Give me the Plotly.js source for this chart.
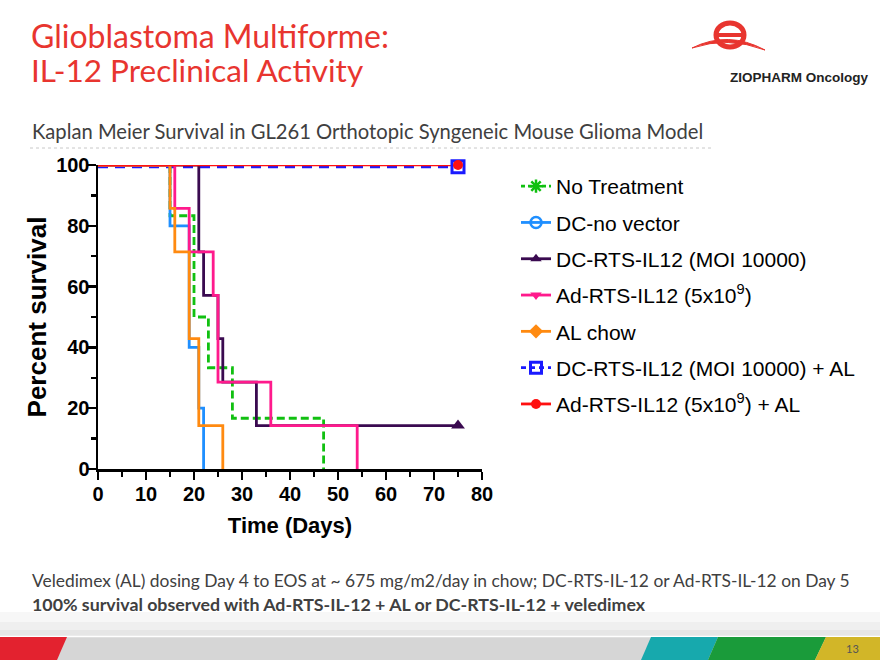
<!DOCTYPE html>
<html>
<head>
<meta charset="utf-8">
<script src="https://cdn.plot.ly/plotly-3.0.1.min.js"></script>
<style>html,body{margin:0;padding:0;background:#fff;}#chart{width:880px;height:660px;}</style>
</head>
<body>
<div id="chart"></div>
<script>
// ---- data ----
const seriesNames = [
  'No Treatment',
  'DC-no vector',
  'DC-RTS-IL12 (MOI 10000)',
  'Ad-RTS-IL12 (5x10<sup>9</sup>)',
  'AL chow',
  'DC-RTS-IL12 (MOI 10000) + AL',
  'Ad-RTS-IL12 (5x10<sup>9</sup>) + AL'
];
const noTreatDays = [0, 15, 20, 23, 28, 47];
const noTreatSurv = [100, 83.3, 50, 33.3, 16.7, 0];
const dcNoVecDays = [0, 15, 19, 21, 22];
const dcNoVecSurv = [100, 80, 40, 20, 0];
const dcRtsDays = [0, 21, 22, 25, 26, 33, 75];
const dcRtsSurv = [100, 71.4, 57.1, 42.9, 28.6, 14.3, 14.3];
const adRtsDays = [0, 16, 19, 24, 25, 36, 54];
const adRtsSurv = [100, 85.7, 71.4, 57.1, 28.6, 14.3, 0];
const alChowDays = [0, 15, 16, 19, 21, 26];
const alChowSurv = [100, 85.7, 71.4, 42.9, 14.3, 0];
const dcRtsAlDays = [0, 75];
const dcRtsAlSurv = [99.4, 99.4];
const adRtsAlDays = [0, 75];
const adRtsAlSurv = [100, 100];
const xTicks = [0, 10, 20, 30, 40, 50, 60, 70, 80];
const yTicks = [0, 20, 40, 60, 80, 100];

// ---- styling ----
const GREEN = '#11c011', BLUE = '#1f8fff', PURPLE = '#3a0a50', PINK = '#ff1a8c',
      ORANGE = '#ff8a10', DBLUE = '#1a1aff', RED = '#ff1010';
const NARROW = '"Liberation Sans Narrow", "Arial Narrow", "Liberation Sans", Arial, sans-serif';
const SANS = '"Liberation Sans", Arial, sans-serif';
const CAL = 'Lato, "Open Sans", sans-serif';

// plot area in pixels: x 98..482, y 165..469
const L = 98, R = 482, T = 165, B = 469;
const PX = x => (x - L) / (R - L);
const PY = y => (B - y) / (B - T);

function curve(x, y, color, dash, width) {
  return {x, y, type: 'scatter', mode: 'lines', showlegend: false, hoverinfo: 'skip',
          cliponaxis: false, line: {shape: 'hv', color, width: width || 2.8, dash: dash || 'solid'}};
}
function censor(x, y, marker) {
  return {x: [x[x.length - 1]], y: [y[y.length - 1]], type: 'scatter', mode: 'markers',
          showlegend: false, hoverinfo: 'skip', cliponaxis: false, marker};
}
function legendItem(i, color, dash, marker) {
  return {x: [null], y: [null], type: 'scatter', mode: 'lines+markers', name: seriesNames[i],
          legendgroup: 'g' + i,
          line: {color, width: 2.8, dash: dash || 'solid'}, marker};
}

const traces = [
  curve(dcRtsAlDays, dcRtsAlSurv, DBLUE, '10px,7px', 3),
  curve(noTreatDays, noTreatSurv, GREEN, '8px,4px'),
  curve(dcNoVecDays, dcNoVecSurv, BLUE),
  curve(dcRtsDays, dcRtsSurv, PURPLE),
  curve(adRtsDays, adRtsSurv, PINK),
  curve(alChowDays, alChowSurv, ORANGE),
  curve(adRtsAlDays, adRtsAlSurv, RED, 'solid', 2.4),
  censor(dcRtsDays, dcRtsSurv, {symbol: 'triangle-up', size: 12, color: PURPLE}),
  censor(dcRtsAlDays, dcRtsAlSurv, {symbol: 'square-open', size: 12, color: DBLUE, line: {width: 3, color: DBLUE}}),
  censor(adRtsAlDays, adRtsAlSurv, {symbol: 'circle', size: 10, color: RED}),
  legendItem(0, GREEN, '4px,3px', {symbol: 'asterisk-open', size: 11, color: GREEN, line: {width: 2.5, color: GREEN}}),
  legendItem(1, BLUE, 'solid', {symbol: 'circle-open', size: 11, color: BLUE, line: {width: 2.5, color: BLUE}}),
  legendItem(2, PURPLE, 'solid', {symbol: 'triangle-up', size: 10, color: PURPLE}),
  legendItem(3, PINK, 'solid', {symbol: 'triangle-down', size: 10, color: PINK}),
  legendItem(4, ORANGE, 'solid', {symbol: 'diamond', size: 11, color: ORANGE}),
  legendItem(5, DBLUE, '5px,4px', {symbol: 'square-open', size: 11, color: DBLUE, line: {width: 3, color: DBLUE}}),
  legendItem(6, RED, 'solid', {symbol: 'circle', size: 10, color: RED})
];

function pathFromPx(pts, close) {
  return pts.map((p, i) => (i ? 'L' : 'M') + PX(p[0]).toFixed(4) + ',' + PY(p[1]).toFixed(4)).join(' ') + (close ? ' Z' : '');
}
function rectPx(x0, y0, x1, y1, fill, layer) {
  return {type: 'rect', xref: 'paper', yref: 'paper', x0: PX(x0), x1: PX(x1), y0: PY(y0), y1: PY(y1),
          fillcolor: fill, line: {width: 0}, layer: layer || 'below'};
}

const shapes = [
  // bottom soft grey gradient
  rectPx(0, 612, 880, 636, '#f7f7f7'),
  rectPx(0, 622, 880, 636, '#efefef'),
  rectPx(0, 630, 880, 636, '#e6e6e6'),
  // footer band
  rectPx(0, 636, 880, 660, '#d6d6d6'),
  {type: 'line', xref: 'paper', yref: 'paper', x0: PX(0), x1: PX(880), y0: PY(636.5), y1: PY(636.5), line: {color: '#ffffff', width: 1.5}, layer: 'below'},
  {type: 'path', xref: 'paper', yref: 'paper', path: pathFromPx([[0, 637], [67, 637], [57, 660], [0, 660]], true), fillcolor: '#e3222f', line: {width: 0}, layer: 'below'},
  {type: 'path', xref: 'paper', yref: 'paper', path: pathFromPx([[651, 637], [718, 637], [708, 660], [641, 660]], true), fillcolor: '#17a9ad', line: {width: 0}, layer: 'below'},
  {type: 'path', xref: 'paper', yref: 'paper', path: pathFromPx([[718, 637], [826, 637], [815, 660], [708, 660]], true), fillcolor: '#1a9b3a', line: {width: 0}, layer: 'below'},
  {type: 'path', xref: 'paper', yref: 'paper', path: pathFromPx([[826, 637], [880, 637], [880, 660], [815, 660]], true), fillcolor: '#d2b628', line: {width: 0}, layer: 'below'},
  // subtitle rule
  {type: 'line', xref: 'paper', yref: 'paper', x0: PX(30), x1: PX(712), y0: PY(148), y1: PY(148), line: {color: '#c8c8c8', width: 1, dash: 'dot'}, layer: 'below'},
  // logo ring + bar + swoosh
  {type: 'circle', xref: 'paper', yref: 'paper', x0: PX(716), x1: PX(744), y0: PY(47), y1: PY(23), line: {color: '#e8352f', width: 5}, fillcolor: 'rgba(0,0,0,0)', layer: 'below'},
  {type: 'line', xref: 'paper', yref: 'paper', x0: PX(718), x1: PX(742), y0: PY(35), y1: PY(35), line: {color: '#e8352f', width: 4}, layer: 'below'},
  {type: 'path', xref: 'paper', yref: 'paper',
   path: 'M' + PX(692) + ',' + PY(48) + ' Q' + PX(728) + ',' + PY(30) + ' ' + PX(765) + ',' + PY(50) +
         ' Q' + PX(728) + ',' + PY(36) + ' ' + PX(692) + ',' + PY(48) + ' Z',
   fillcolor: '#e8352f', line: {color: '#e8352f', width: 1}, layer: 'below'}
];

function ann(text, x, y, size, color, family, opts) {
  return Object.assign({text, xref: 'paper', yref: 'paper', x: PX(x), y: PY(y), xanchor: 'left', yanchor: 'middle',
          showarrow: false, font: {size, color, family}}, opts || {});
}

const annotations = [
  ann('Glioblastoma Multiforme:', 29, 36, 32, '#e8352f', CAL),
  ann('IL-12 Preclinical Activity', 29, 70, 31.5, '#e8352f', CAL),
  ann('Kaplan Meier Survival in GL261 Orthotopic Syngeneic Mouse Glioma Model', 30, 131, 20.2, '#404040', CAL),
  ann('Veledimex (AL) dosing Day 4 to EOS at ~ 675 mg/m2/day in chow; DC-RTS-IL-12 or Ad-RTS-IL-12 on Day 5', 30, 580, 17.4, '#404040', CAL),
  ann('<b>100% survival observed with Ad-RTS-IL-12 + AL or DC-RTS-IL-12 + veledimex</b>', 30, 604, 17.8, '#404040', CAL),
  ann('<b>ZIOPHARM Oncology</b>', 728, 77, 13.5, '#222', SANS),
  ann('13', 852, 648, 11, '#555', CAL, {xanchor: 'center'})
];

const axisCommon = {
  showgrid: false, zeroline: false, showline: true, linecolor: '#000', linewidth: 2.5,
  ticks: 'outside', ticklen: 8, tickwidth: 2.5, tickcolor: '#000',
  tickfont: {family: NARROW, size: 20, color: '#000', weight: 'bold'},
  fixedrange: true
};

const layout = {
  width: 880, height: 660,
  margin: {l: L, r: 880 - R, t: T, b: 660 - B, pad: 0},
  paper_bgcolor: '#ffffff', plot_bgcolor: 'rgba(0,0,0,0)',
  xaxis: Object.assign({}, axisCommon, {
    range: [0, 80], tickmode: 'array', tickvals: xTicks, ticklabelstandoff: -3,
    minor: {dtick: 5, ticks: 'outside', ticklen: 5, tickwidth: 2.5, tickcolor: '#000', showgrid: false},
    title: {text: 'Time (Days)', font: {family: NARROW, size: 22, color: '#000', weight: 'bold'}, standoff: 14}
  }),
  yaxis: Object.assign({}, axisCommon, {
    range: [0, 100], tickmode: 'array', tickvals: yTicks, ticklabelstandoff: -6,
    minor: {dtick: 10, ticks: 'outside', ticklen: 5, tickwidth: 2.5, tickcolor: '#000', showgrid: false},
    title: {text: 'Percent survival', font: {family: SANS, size: 26, color: '#000', weight: 'bold'}, standoff: 2}
  }),
  showlegend: true,
  legend: {
    x: PX(516), y: PY(166), xanchor: 'left', yanchor: 'top',
    font: {family: NARROW, size: 21, color: '#000'},
    bgcolor: 'rgba(0,0,0,0)', borderwidth: 0, tracegroupgap: 6, itemwidth: 30
  },
  shapes, annotations
};

Plotly.newPlot('chart', traces, layout, {displayModeBar: false, staticPlot: true});
</script>
</body>
</html>
